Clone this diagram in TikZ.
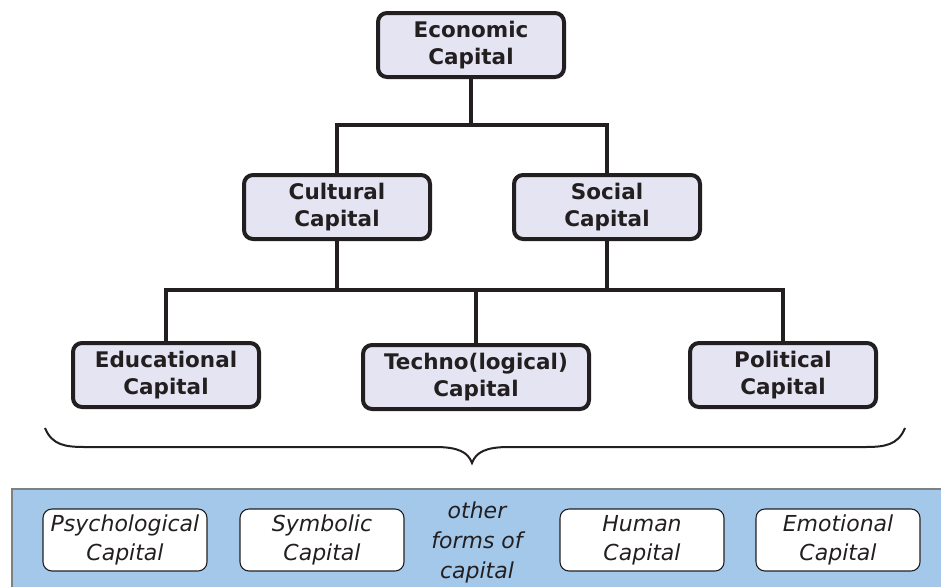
\documentclass[tikz,border=0pt]{standalone}
\usepackage{fontspec}
\setmainfont{DejaVu Sans}
\definecolor{boxfill}{HTML}{E4E4F2}
\definecolor{band}{HTML}{A3C8EA}
\definecolor{ink}{HTML}{231F20}
\begin{document}
\begin{tikzpicture}[x=1pt,y=-1pt,
  main/.style={draw=ink,line width=4pt,rounded corners=9pt,fill=boxfill,
    minimum width=186pt,minimum height=64pt,inner sep=0pt,align=center,
    font=\fontsize{21.5}{27}\selectfont\bfseries,text=ink},
  other/.style={draw=ink,line width=1.1pt,rounded corners=9pt,fill=white,
    minimum width=164pt,minimum height=62pt,inner sep=0pt,align=center,
    font=\fontsize{22}{29}\selectfont\itshape,text=ink},
  conn/.style={draw=ink,line width=4pt}]
\useasboundingbox (0,0) rectangle (941,587);
% band
\fill[band] (12,489) rectangle (941,587);
\draw[gray,line width=1.5pt] (12,587) -- (12,489) -- (941,489);
% main nodes
\node[main] (eco) at (471,45) {Economic\\Capital};
\node[main] (cul) at (337,207) {Cultural\\Capital};
\node[main] (soc) at (607,207) {Social\\Capital};
\node[main] (edu) at (166,375) {Educational\\Capital};
\node[main,minimum width=226pt] (tec) at (476,377) {Techno(logical)\\Capital};
\node[main] (pol) at (783,375) {Political\\Capital};
% connectors
\coordinate (j1) at (471,125);
\coordinate (j2) at (476,290);
\draw[conn] (eco.south) -- (j1);
\draw[conn] (cul.north) |- (j1) -| (soc.north);
\draw[conn] (cul.south) -- (cul.south |- j2);
\draw[conn] (soc.south) -- (soc.south |- j2);
\draw[conn] (edu.north) |- (j2) -| (pol.north);
\draw[conn] (j2) -- (tec.north);
% brace
\coordinate (tip) at (472,463);
\draw[ink,line width=2pt] (45,428) .. controls (52,445) and (65,447) .. (85,447)
  -- (435,447) .. controls (458,447) and (468,452) .. (tip)
  .. controls (476,452) and (486,447) .. (509,447)
  -- (865,447) .. controls (885,447) and (898,445) .. (905,428);
% other forms
\node[other] (psy) at (125,540) {Psychological\\Capital};
\node[other] (sym) at (322,540) {Symbolic\\Capital};
\node[other] (hum) at (642,540) {Human\\Capital};
\node[other] (emo) at (838,540) {Emotional\\Capital};
\node[align=center,inner sep=0pt,text=ink,font=\fontsize{22}{30}\selectfont\itshape] (oth) at (477,542) {other\\forms of\\capital};
\end{tikzpicture}
\end{document}
